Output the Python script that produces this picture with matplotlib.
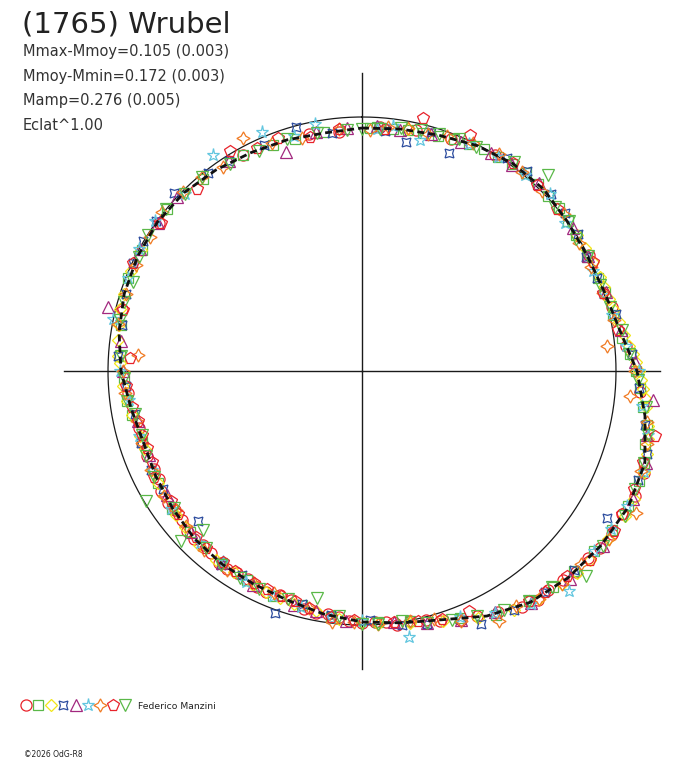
import matplotlib
matplotlib.use('Agg')
import matplotlib.pyplot as plt
import numpy as np

plt.rcParams['font.family'] = ['DejaVu Sans']

W, H = 688, 768

# Reference circle = mean magnitude; brighter points plotted outward
R0 = 254.0      # px radius of the mean-magnitude circle
KMAG = 250.0    # px per magnitude

# Fourier fit, phase (0 = top, clockwise) vs magnitude relative to mean
FIT_PHASE = [0.000, 0.025, 0.050, 0.075, 0.100, 0.125, 0.150, 0.175, 0.200, 0.225,
             0.250, 0.275, 0.300, 0.325, 0.350, 0.375, 0.400, 0.425, 0.450, 0.475,
             0.500, 0.525, 0.550, 0.575, 0.600, 0.625, 0.650, 0.675, 0.700, 0.725,
             0.750, 0.775, 0.800, 0.825, 0.850, 0.875, 0.900, 0.925, 0.950, 0.975]
FIT_DMAG = [0.044, 0.036, 0.024, 0.004, -0.010, -0.012, 0.000, 0.004, -0.004, -0.028,
            -0.084, -0.130, -0.174, -0.180, -0.168, -0.152, -0.128, -0.084, -0.030, -0.004,
            0.012, 0.032, 0.052, 0.060, 0.062, 0.068, 0.080, 0.090, 0.096, 0.080,
            0.052, 0.032, 0.016, 0.008, 0.004, 0.008, 0.022, 0.036, 0.044, 0.052]

# sessions (phase, magnitude relative to mean)
S1_PH = [0.012, 0.035, 0.058, 0.21, 0.262, 0.305, 0.33, 0.352, 0.37, 0.388, 0.405, 0.43,
         0.452, 0.47, 0.485, 0.50, 0.515, 0.53, 0.548, 0.565, 0.58, 0.595, 0.61, 0.625,
         0.64, 0.655, 0.672, 0.69, 0.71, 0.79, 0.92, 0.965,
         0.088, 0.175, 0.235, 0.318, 0.342, 0.36, 0.378, 0.396, 0.418, 0.44, 0.46, 0.478,
         0.492, 0.508, 0.522, 0.538, 0.556, 0.572, 0.588, 0.602, 0.618, 0.632, 0.648, 0.664,
         0.68, 0.70, 0.735, 0.85, 0.985]
S1_DM = [0.036, 0.028, 0.022, -0.018, -0.100, -0.184, -0.172, -0.170, -0.160, -0.134, -0.124, -0.068,
         -0.030, -0.004, 0.006, 0.008, 0.028, 0.032, 0.055, 0.052, 0.066, 0.058, 0.070, 0.064,
         0.080, 0.078, 0.094, 0.090, 0.096, 0.026, 0.030, 0.046,
         0.002, -0.004, -0.046, -0.186, -0.178, -0.156, -0.144, -0.140, -0.090, -0.056, -0.014, -0.008,
         0.012, 0.014, 0.036, 0.038, 0.060, 0.054, 0.066, 0.058, 0.072, 0.066, 0.084, 0.080,
         0.098, 0.090, 0.074, 0.010, 0.054]

S2_PH = [0.005, 0.02, 0.04, 0.06, 0.08, 0.10, 0.12, 0.14, 0.16, 0.19, 0.23, 0.25, 0.27,
         0.29, 0.31, 0.34, 0.37, 0.40, 0.44, 0.49, 0.52, 0.56, 0.60, 0.65, 0.70, 0.73,
         0.76, 0.78, 0.81, 0.86, 0.89, 0.94, 0.975,
         0.01, 0.03, 0.05, 0.07, 0.09, 0.11, 0.13, 0.15, 0.175, 0.2, 0.215, 0.24, 0.26,
         0.28, 0.30, 0.325, 0.355, 0.385, 0.42, 0.47, 0.54, 0.58, 0.63, 0.67, 0.72, 0.745,
         0.83, 0.92, 0.955]
S2_DM = [0.044, 0.040, 0.032, 0.018, 0.004, -0.006, -0.010, -0.008, 0.004, 0.002, -0.034, -0.080, -0.118,
         -0.154, -0.174, -0.168, -0.150, -0.122, -0.046, 0.010, 0.024, 0.050, 0.066, 0.076, 0.092, 0.070,
         0.048, 0.034, 0.010, 0.002, 0.020, 0.044, 0.048,
         0.038, 0.036, 0.028, 0.012, 0.000, -0.014, -0.006, -0.004, 0.008, -0.008, -0.014, -0.058, -0.098,
         -0.144, -0.170, -0.176, -0.160, -0.138, -0.098, -0.004, 0.048, 0.064, 0.074, 0.084, 0.080, 0.062,
         0.010, 0.030, 0.050]

S3_PH = [0.17, 0.19, 0.205, 0.22, 0.235, 0.245, 0.255, 0.265, 0.28, 0.295, 0.32, 0.345,
         0.36, 0.38, 0.41, 0.45, 0.47, 0.50, 0.53, 0.555, 0.575, 0.59, 0.62, 0.645,
         0.67, 0.695, 0.72, 0.74, 0.755, 0.77, 0.80, 0.83,
         0.03, 0.16, 0.18, 0.197, 0.212, 0.228, 0.24, 0.25, 0.26, 0.27, 0.287, 0.305,
         0.33, 0.37, 0.395, 0.43, 0.49, 0.515, 0.545, 0.565, 0.605, 0.635, 0.66, 0.68,
         0.705, 0.73, 0.76, 0.78, 0.79, 0.815]
S3_DM = [-0.002, -0.006, -0.014, -0.030, -0.058, -0.080, -0.102, -0.120, -0.148, -0.172, -0.186, -0.176,
         -0.168, -0.154, -0.116, -0.034, -0.012, 0.014, 0.038, 0.050, 0.056, 0.064, 0.062, 0.074,
         0.084, 0.092, 0.080, 0.060, 0.046, 0.034, 0.014, 0.008,
         0.030, -0.002, -0.004, -0.010, -0.022, -0.042, -0.070, -0.092, -0.110, -0.128, -0.158, -0.182,
         -0.186, -0.164, -0.140, -0.078, 0.002, 0.020, 0.044, 0.052, 0.060, 0.070, 0.080, 0.088,
         0.090, 0.070, 0.040, 0.026, 0.018, 0.008]

S4_PH = [0.015, 0.03, 0.06, 0.095, 0.13, 0.16, 0.19, 0.24, 0.28, 0.31, 0.336, 0.39, 0.43,
         0.46, 0.495, 0.52, 0.555, 0.585, 0.632, 0.665, 0.70, 0.74, 0.78, 0.82, 0.85,
         0.871, 0.91, 0.958, 0.98,
         0.045, 0.11, 0.145, 0.175, 0.215, 0.26, 0.295, 0.37, 0.41, 0.475, 0.54, 0.60,
         0.68, 0.72, 0.76, 0.80, 0.835, 0.895, 0.935]
S4_DM = [0.050, 0.084, 0.076, -0.016, -0.020, -0.006, 0.004, -0.066, -0.136, -0.170, -0.128, -0.130, -0.104,
         -0.030, 0.020, 0.034, -0.014, 0.070, 0.126, 0.092, 0.088, 0.070, 0.040, 0.002, -0.004,
         -0.020, 0.020, 0.004, 0.058,
         0.020, -0.020, -0.012, 0.012, -0.026, -0.094, -0.172, -0.146, -0.118, -0.014, 0.052, 0.056,
         0.084, 0.090, 0.038, 0.024, -0.002, 0.012, 0.032]

S5_PH = [0.01, 0.045, 0.085, 0.12, 0.155, 0.20, 0.245, 0.266, 0.30, 0.35, 0.40, 0.44,
         0.48, 0.51, 0.545, 0.60, 0.66, 0.715, 0.75, 0.789, 0.83, 0.87, 0.947, 0.97,
         0.025, 0.065, 0.10, 0.175, 0.225, 0.285, 0.32, 0.375, 0.42, 0.46, 0.53, 0.575,
         0.63, 0.69, 0.77, 0.85, 0.91, 0.99]
S5_DM = [0.036, 0.030, 0.004, -0.018, -0.004, -0.010, -0.078, -0.152, -0.180, -0.176, -0.132, -0.056,
         0.004, 0.016, 0.042, 0.066, 0.090, 0.098, 0.058, -0.032, 0.004, 0.000, 0.090, 0.042,
         0.040, 0.016, -0.004, 0.000, -0.034, -0.154, -0.184, -0.158, -0.086, -0.024, 0.040, 0.056,
         0.076, 0.100, 0.044, 0.008, 0.022, 0.044]

S6_PH = [0.01, 0.039, 0.07, 0.11, 0.15, 0.185, 0.215, 0.25, 0.285, 0.325, 0.355, 0.38,
         0.42, 0.472, 0.50, 0.54, 0.58, 0.62, 0.68, 0.73, 0.783, 0.81, 0.85, 0.904,
         0.937, 0.97,
         0.02, 0.09, 0.13, 0.20, 0.235, 0.27, 0.305, 0.34, 0.40, 0.44, 0.52, 0.56,
         0.60, 0.65, 0.705, 0.75, 0.83, 0.875, 0.955]
S6_DM = [0.046, 0.064, 0.012, -0.004, 0.010, 0.008, -0.010, -0.090, -0.156, -0.174, -0.160, -0.192,
         -0.088, -0.064, 0.018, 0.040, 0.054, 0.072, 0.086, 0.078, 0.000, 0.008, -0.006, -0.032,
         -0.020, 0.012,
         0.030, 0.004, -0.018, 0.004, -0.044, -0.114, -0.182, -0.166, -0.136, -0.044, 0.020, 0.048,
         0.070, 0.074, 0.086, 0.046, 0.000, 0.016, 0.038]

S7_PH = [0.005, 0.03, 0.055, 0.09, 0.125, 0.165, 0.20, 0.234, 0.265, 0.29, 0.326, 0.365,
         0.395, 0.42, 0.455, 0.49, 0.519, 0.56, 0.595, 0.635, 0.66, 0.70, 0.735, 0.761,
         0.80, 0.84, 0.857, 0.89, 0.925, 0.96,
         0.017, 0.043, 0.072, 0.108, 0.145, 0.182, 0.218, 0.25, 0.278, 0.305, 0.345, 0.38,
         0.408, 0.44, 0.47, 0.505, 0.535, 0.575, 0.615, 0.648, 0.68, 0.715, 0.75, 0.78,
         0.82, 0.875, 0.905, 0.94, 0.985]
S7_DM = [0.050, 0.028, 0.016, -0.010, -0.004, 0.008, 0.002, 0.032, -0.060, -0.160, -0.216, -0.150,
         -0.140, -0.124, -0.016, 0.000, 0.004, 0.060, 0.054, 0.078, 0.080, 0.090, 0.062, 0.116,
         0.022, 0.012, -0.004, 0.010, -0.032, 0.052,
         0.034, 0.032, 0.000, -0.006, -0.008, 0.008, -0.014, -0.076, -0.142, -0.168, -0.178, -0.154,
         -0.108, -0.058, -0.002, 0.010, 0.046, 0.066, 0.060, 0.086, 0.084, 0.094, 0.058, 0.022,
         0.016, 0.002, 0.030, 0.036, 0.044]

S8_PH = [0.038, 0.068, 0.10, 0.14, 0.18, 0.225, 0.285, 0.315, 0.34, 0.375, 0.40, 0.433,
         0.465, 0.505, 0.535, 0.555, 0.575, 0.60, 0.615, 0.645, 0.675, 0.685, 0.705, 0.725,
         0.759, 0.79, 0.851, 0.883, 0.914, 0.945, 0.985,
         0.015, 0.12, 0.20, 0.30, 0.33, 0.36, 0.39, 0.45, 0.48, 0.52, 0.545, 0.565,
         0.59, 0.625, 0.655, 0.695, 0.715, 0.74, 0.82, 0.93, 0.965]
S8_DM = [-0.024, -0.022, -0.014, 0.002, -0.004, -0.020, -0.184, -0.170, -0.180, -0.146, -0.120, -0.036,
         -0.008, 0.020, 0.046, 0.060, 0.066, 0.070, 0.074, 0.086, 0.084, 0.100, 0.100, 0.086,
         0.088, 0.030, 0.016, 0.032, -0.012, 0.024, 0.044,
         0.044, -0.004, 0.002, -0.166, -0.172, -0.168, -0.132, -0.026, 0.004, 0.024, 0.056, 0.064,
         0.068, 0.076, 0.090, 0.102, 0.096, 0.070, 0.004, 0.030, 0.056]

S9_PH = [0.0, 0.025, 0.05, 0.075, 0.121, 0.15, 0.175, 0.21, 0.24, 0.27, 0.30, 0.33,
         0.368, 0.385, 0.415, 0.445, 0.475, 0.50, 0.531, 0.57, 0.60, 0.625, 0.630, 0.664,
         0.69, 0.72, 0.745, 0.783, 0.809, 0.84, 0.875, 0.91, 0.95, 0.99,
         0.012, 0.038, 0.063, 0.10, 0.138, 0.162, 0.195, 0.225, 0.255, 0.285, 0.315, 0.35,
         0.40, 0.43, 0.46, 0.49, 0.515, 0.55, 0.585, 0.615, 0.65, 0.675, 0.705, 0.73,
         0.76, 0.795, 0.825, 0.86, 0.89, 0.93, 0.97]
S9_DM = [0.048, 0.030, 0.020, 0.010, -0.064, -0.008, 0.000, -0.008, -0.056, -0.128, -0.170, -0.184,
         -0.200, -0.136, -0.096, -0.044, 0.002, 0.006, 0.092, 0.052, 0.058, 0.116, 0.024, 0.008,
         0.088, 0.090, 0.064, 0.028, 0.032, 0.000, 0.014, 0.034, 0.040, 0.052,
         0.046, 0.024, 0.010, -0.016, 0.002, 0.010, 0.004, -0.036, -0.088, -0.156, -0.172, -0.174,
         -0.122, -0.066, -0.026, 0.000, 0.030, 0.058, 0.056, 0.072, 0.086, 0.084, 0.100, 0.068,
         0.050, 0.026, 0.014, 0.000, 0.010, 0.044, 0.046]

SESSIONS = [
    (S1_PH, S1_DM, 'o', '#e8232b', 8.0),
    (S2_PH, S2_DM, 's', '#5ab848', 7.0),
    (S3_PH, S3_DM, 'D', '#f2e616', 6.2),
    (S4_PH, S4_DM, (4, 1, 45), '#2c4c9e', 9.0),
    (S5_PH, S5_DM, '^', '#a2287f', 8.0),
    (S6_PH, S6_DM, '*', '#62c6df', 9.5),
    (S7_PH, S7_DM, (4, 1, 0), '#f07a22', 9.5),
    (S8_PH, S8_DM, 'p', '#e8232b', 8.5),
    (S9_PH, S9_DM, 'v', '#5ab848', 8.0),
]

TITLE = '(1765) Wrubel'
INFO = ['Mmax-Mmoy=0.105 (0.003)', 'Mmoy-Mmin=0.172 (0.003)',
        'Mamp=0.276 (0.005)', 'Eclat^1.00']
OBSERVER = 'Federico Manzini'
CREDIT = '\u00a92026 OdG-R8'

fig = plt.figure(figsize=(W / 100, H / 100), dpi=100)
fig.patch.set_facecolor('white')

# polar panel, centre at (362, 371) px
RMAX = 310
cx, cy = 362, 371
ax = fig.add_axes([(cx - RMAX) / W, (H - cy - RMAX) / H, 2 * RMAX / W, 2 * RMAX / H],
                  projection='polar')
ax.set_theta_zero_location('N')
ax.set_theta_direction(-1)
ax.set_rlim(0, RMAX)
ax.axis('off')

def to_r(dm):
    return R0 - KMAG * np.asarray(dm)

# cross
for th in [0, np.pi / 2, np.pi, 3 * np.pi / 2]:
    ax.plot([th, th], [0, 298], color='#1a1a1a', lw=1.0, zorder=1, clip_on=False)

# mean circle
tt = np.linspace(0, 2 * np.pi, 400)
ax.plot(tt, np.full_like(tt, R0), color='#1a1a1a', lw=0.9, zorder=1)

for ph, dm, mk, col, ms in SESSIONS:
    ax.plot(2 * np.pi * np.asarray(ph), to_r(dm), linestyle='none', marker=mk,
            markersize=ms, markerfacecolor='none', markeredgecolor=col,
            markeredgewidth=0.9, zorder=2, clip_on=False)

fph = np.append(FIT_PHASE, 1.0)
fdm = np.append(FIT_DMAG, FIT_DMAG[0])
ax.plot(2 * np.pi * fph, to_r(fdm), color='#111111', lw=2.0,
        linestyle=(0, (2.5, 1.5)), zorder=3)

# overlay in pixel coordinates for texts and legend
ov = fig.add_axes([0, 0, 1, 1])
ov.set_xlim(0, W)
ov.set_ylim(H, 0)
ov.axis('off')

ov.text(22, 33, TITLE, fontsize=21, color='#222222', va='baseline', ha='left')
for i, s in enumerate(INFO):
    ov.text(23, 56 + 24.7 * i, s, fontsize=10.5, color='#333333', va='baseline', ha='left')

for i, (ph, dm, mk, col, ms) in enumerate(SESSIONS):
    ov.plot(26 + 12.4 * i, 704.5, linestyle='none', marker=mk, markersize=ms,
            markerfacecolor='none', markeredgecolor=col, markeredgewidth=0.9)
ov.text(138, 709, OBSERVER, fontsize=6.7, color='#222222', va='baseline', ha='left')
ov.text(24, 757, CREDIT, fontsize=5.5, color='#222222', va='baseline', ha='left')

fig.savefig('out.png', dpi=100, facecolor='white')
